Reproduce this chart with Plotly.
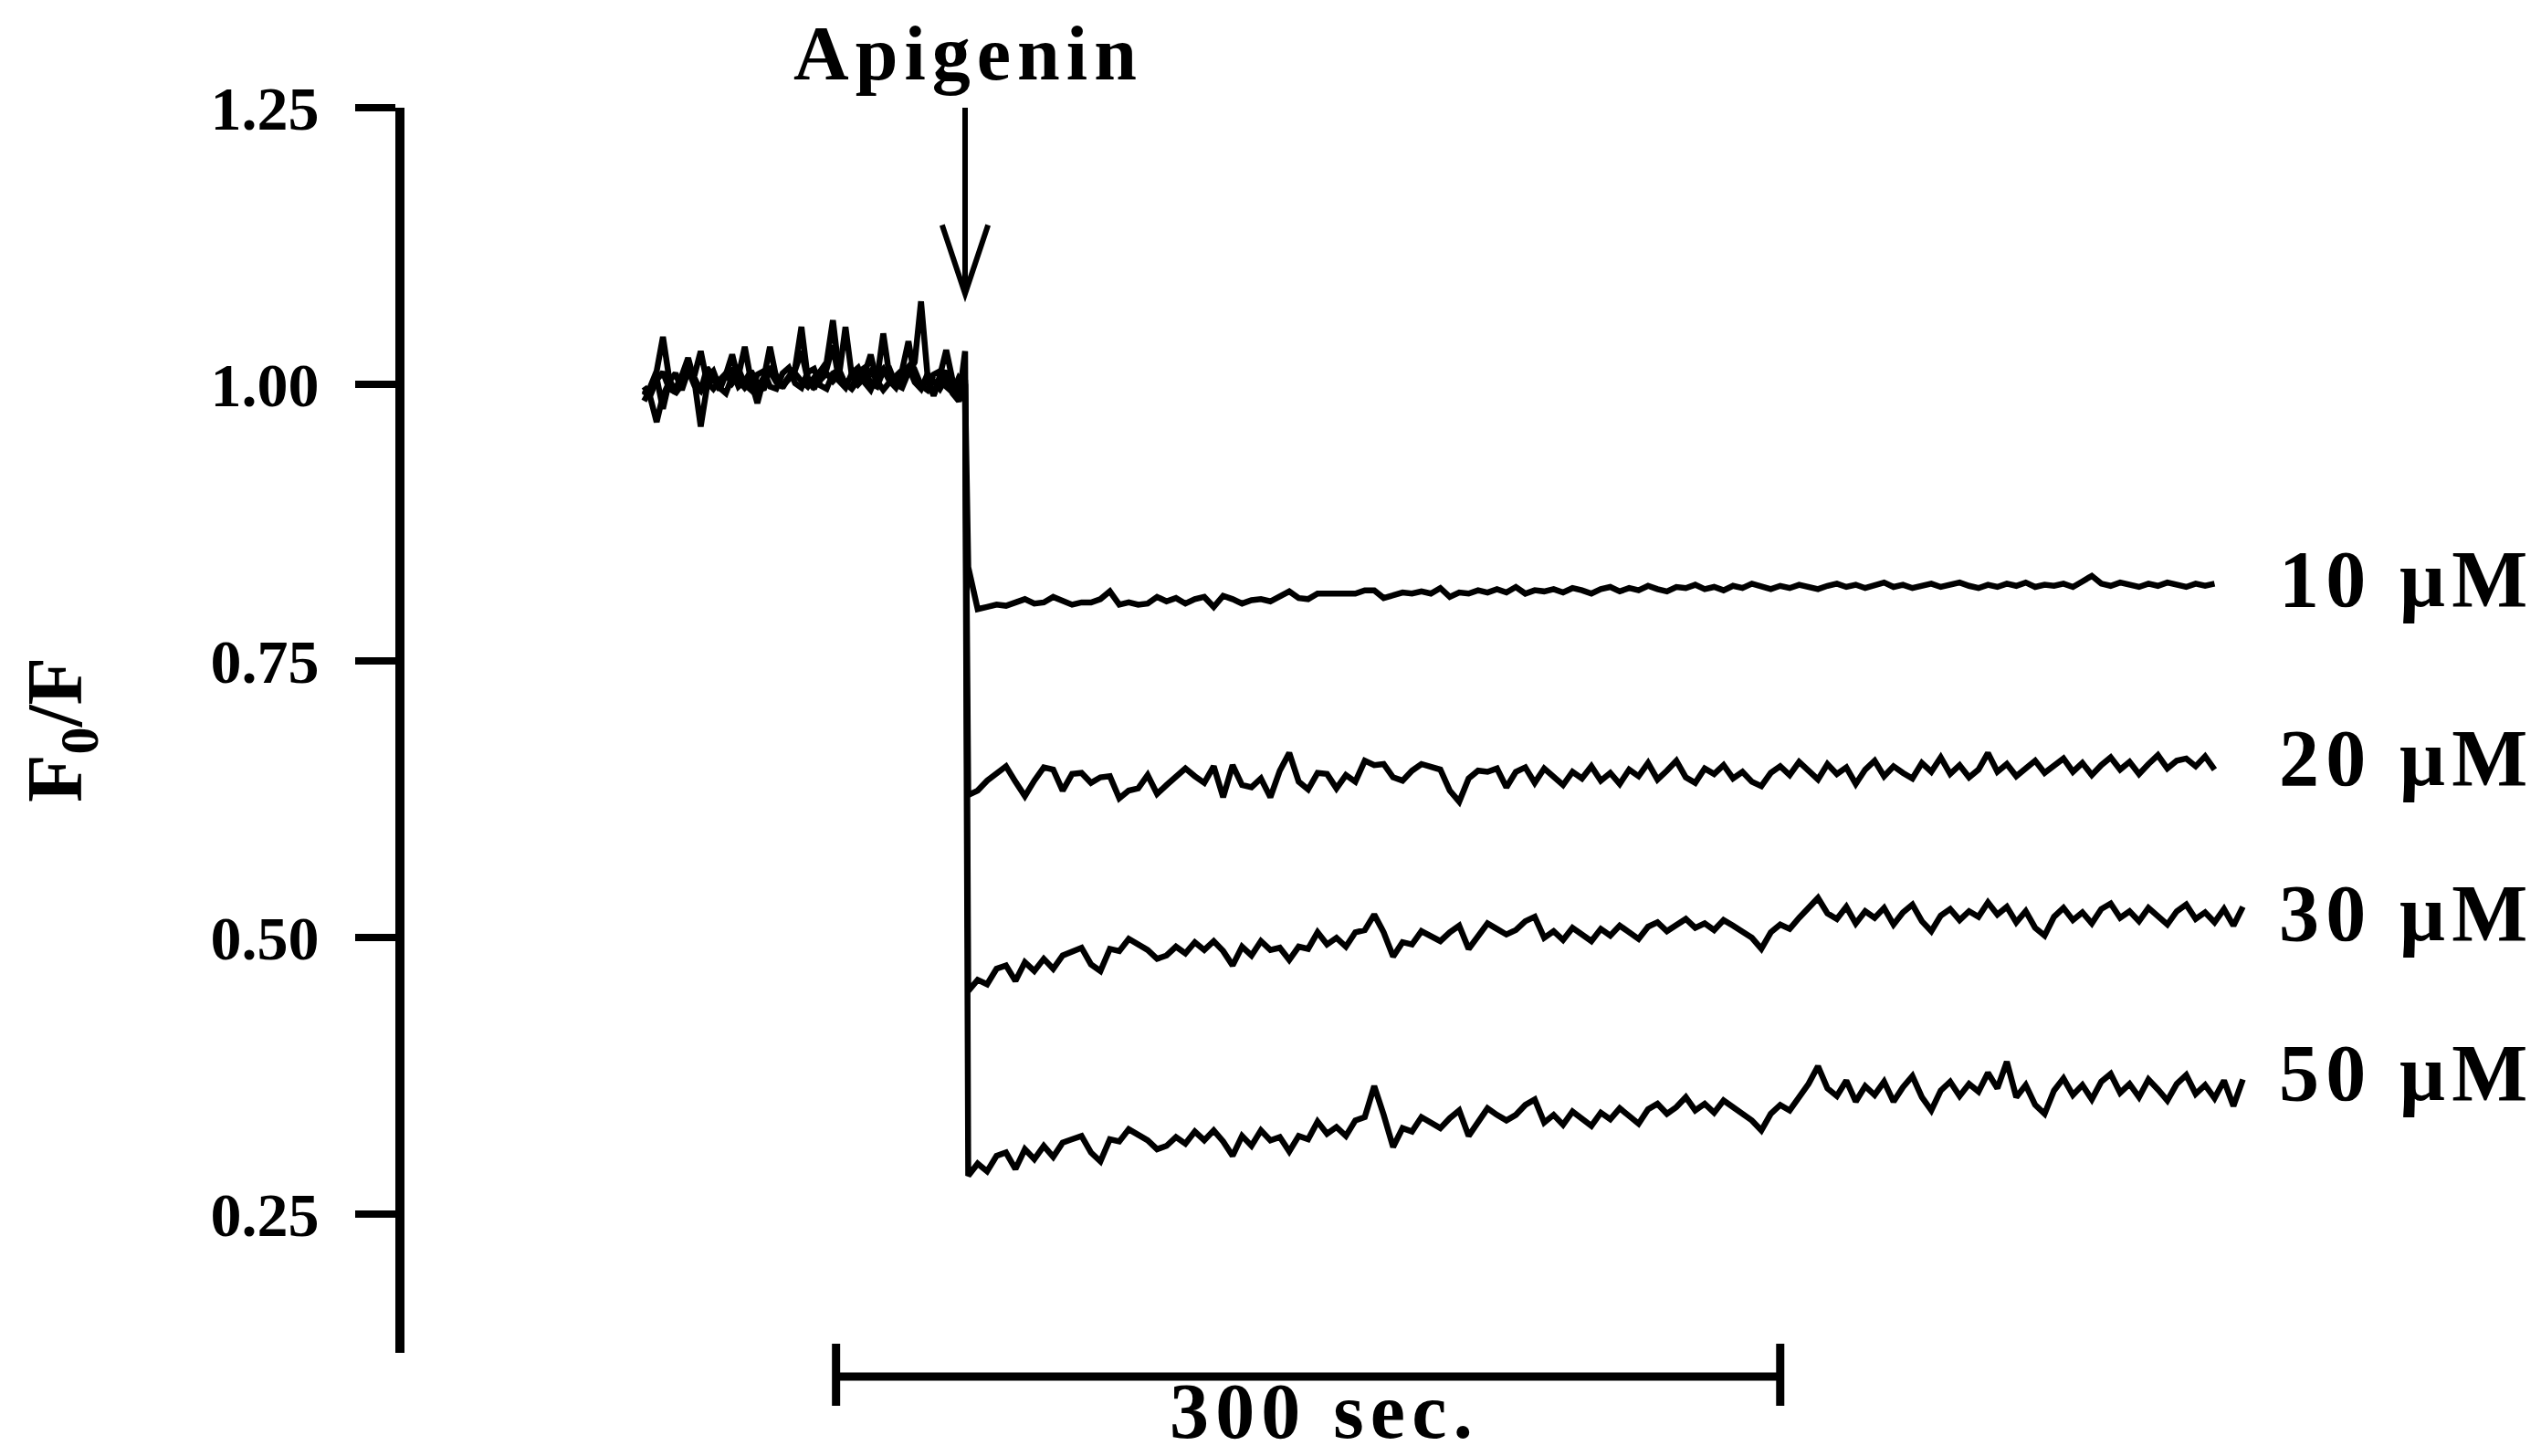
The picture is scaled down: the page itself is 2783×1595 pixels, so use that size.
import numpy as np
import plotly.graph_objects as go

# Stern-Volmer style quenching traces: F0/F before and after apigenin addition (t = 0 s)
CONCENTRATIONS = ["10 μM", "20 μM", "30 μM", "50 μM"]

PRE_START, PRE_STEP = -102.0, 2.0    # s, baseline recording
POST_START, POST_STEP = 1.0, 3.0     # s, after addition

PRE_10 = [
    0.998, 0.990, 1.004, 1.011, 0.996, 0.993, 1.008, 1.013, 0.999, 0.994, 1.006, 1.012, 0.997,
    0.992, 1.007, 1.014, 1.000, 0.995, 1.009, 1.012, 0.998, 0.996, 1.010, 1.015, 1.001, 0.997,
    1.011, 1.014, 0.999, 0.996, 1.010, 1.013, 1.000, 0.997, 1.011, 1.015, 1.001, 0.998, 1.012,
    1.014, 1.000, 0.997, 1.011, 1.013, 0.999, 0.995, 1.009, 1.012, 0.998, 0.993, 1.006, 1.000,
]
PRE_20 = [
    0.990, 0.998, 1.012, 1.043, 1.005, 0.992, 1.000, 1.015, 1.008, 1.030, 1.002, 0.996, 1.004,
    1.010, 1.001, 1.008, 1.034, 1.003, 0.997, 1.006, 1.012, 1.002, 0.999, 1.007, 1.015, 1.052,
    1.006, 0.998, 1.004, 1.010, 1.003, 1.009, 1.052, 1.008, 1.000, 1.006, 1.012, 1.004, 1.046,
    1.007, 0.999, 1.005, 1.010, 1.020, 1.075, 1.010, 1.002, 0.996, 1.006, 0.992, 0.985, 1.000,
]
PRE_30 = [
    0.995, 0.988, 0.966, 0.990, 1.002, 0.996, 1.008, 1.024, 1.003, 0.962, 0.998, 1.006, 1.001,
    1.009, 1.027, 1.004, 0.997, 1.003, 0.983, 1.005, 1.034, 1.006, 0.999, 1.004, 1.010, 1.003,
    0.998, 1.006, 1.012, 1.020, 1.058, 1.010, 1.001, 0.996, 1.004, 1.009, 1.027, 1.003, 0.995,
    1.002, 1.008, 1.013, 1.039, 1.006, 0.998, 1.004, 0.990, 1.008, 1.031, 1.004, 0.985, 1.030,
]
PRE_50 = [
    0.985, 0.996, 1.006, 0.978, 1.003, 1.010, 0.995, 1.012, 1.006, 0.994, 1.015, 1.007, 0.995,
    1.009, 1.013, 0.998, 1.003, 1.012, 1.001, 0.995, 1.016, 1.008, 0.997, 1.006, 1.013, 1.030,
    1.004, 0.996, 1.009, 1.014, 1.035, 1.003, 0.997, 1.010, 1.015, 1.002, 0.995, 1.008, 1.014,
    1.003, 0.997, 1.010, 1.016, 1.002, 0.996, 1.009, 0.990, 1.005, 1.012, 0.996, 0.988, 1.004,
]

POST_10 = [
    0.835, 0.797, 0.799, 0.801, 0.800, 0.803, 0.806, 0.802, 0.803, 0.808,
    0.804, 0.801, 0.803, 0.803, 0.806, 0.813, 0.801, 0.803, 0.801, 0.802,
    0.808, 0.804, 0.807, 0.802, 0.806, 0.808, 0.799, 0.809, 0.806, 0.802,
    0.805, 0.806, 0.804, 0.809, 0.813, 0.807, 0.806, 0.811, 0.811, 0.811,
    0.810, 0.811, 0.814, 0.814, 0.807, 0.810, 0.812, 0.811, 0.813, 0.811,
    0.816, 0.808, 0.812, 0.811, 0.814, 0.812, 0.815, 0.812, 0.817, 0.811,
    0.814, 0.813, 0.815, 0.812, 0.816, 0.814, 0.811, 0.815, 0.817, 0.813,
    0.816, 0.814, 0.818, 0.815, 0.813, 0.817, 0.816, 0.819, 0.815, 0.817,
    0.814, 0.818, 0.816, 0.820, 0.817, 0.815, 0.818, 0.816, 0.819, 0.817,
    0.815, 0.818, 0.820, 0.817, 0.819, 0.816, 0.818, 0.821, 0.817, 0.819,
    0.816, 0.818, 0.820, 0.817, 0.819, 0.821, 0.818, 0.816, 0.819, 0.817,
    0.820, 0.818, 0.821, 0.817, 0.819, 0.818, 0.820, 0.817, 0.822, 0.827,
    0.820, 0.818, 0.821, 0.819, 0.817, 0.820, 0.818, 0.821, 0.819, 0.817,
    0.820, 0.818, 0.820,
]
POST_20 = [
    0.629, 0.633, 0.642, 0.649, 0.655, 0.641, 0.628, 0.642, 0.654, 0.652,
    0.633, 0.648, 0.649, 0.640, 0.645, 0.646, 0.626, 0.633, 0.635, 0.647,
    0.630, 0.638, 0.645, 0.653, 0.646, 0.640, 0.655, 0.627, 0.656, 0.638,
    0.636, 0.644, 0.627, 0.651, 0.667, 0.641, 0.634, 0.649, 0.648, 0.635,
    0.647, 0.641, 0.660, 0.656, 0.657, 0.645, 0.642, 0.651, 0.657, 0.655,
    0.652, 0.633, 0.623, 0.644, 0.651, 0.650, 0.653, 0.636, 0.650, 0.654,
    0.640, 0.653, 0.645, 0.638, 0.650, 0.644, 0.655, 0.642, 0.649, 0.639,
    0.652, 0.646, 0.658, 0.643, 0.651, 0.660, 0.645, 0.640, 0.653, 0.648,
    0.656, 0.644, 0.650, 0.641, 0.637, 0.649, 0.655, 0.647, 0.659, 0.651,
    0.643, 0.657, 0.648, 0.654, 0.639, 0.652, 0.660, 0.646, 0.655, 0.649,
    0.644, 0.658, 0.650, 0.663, 0.648, 0.656, 0.645, 0.652, 0.667, 0.650,
    0.657, 0.646, 0.653, 0.660, 0.649, 0.655, 0.662, 0.650, 0.658, 0.647,
    0.656, 0.663, 0.652, 0.659, 0.648, 0.657, 0.665, 0.653, 0.660, 0.662,
    0.655, 0.664, 0.652,
]
POST_30 = [
    0.452, 0.462, 0.458, 0.472, 0.475, 0.461, 0.478, 0.470, 0.481, 0.472,
    0.484, 0.488, 0.491, 0.476, 0.470, 0.490, 0.488, 0.499, 0.494, 0.489,
    0.481, 0.484, 0.492, 0.486, 0.496, 0.489, 0.497, 0.488, 0.475, 0.492,
    0.484, 0.497, 0.489, 0.491, 0.480, 0.492, 0.490, 0.505, 0.494, 0.500,
    0.492, 0.505, 0.507, 0.521, 0.505, 0.483, 0.496, 0.494, 0.506, 0.502,
    0.497, 0.505, 0.511, 0.490, 0.502, 0.513, 0.508, 0.503, 0.507, 0.515,
    0.519, 0.500, 0.506, 0.498, 0.509, 0.503, 0.497, 0.508, 0.502, 0.511,
    0.505, 0.499, 0.510, 0.514, 0.506, 0.511, 0.517, 0.509, 0.513, 0.507,
    0.516, 0.511, 0.505, 0.500, 0.490, 0.505, 0.512, 0.508, 0.518, 0.527,
    0.536, 0.522, 0.517, 0.528, 0.513, 0.524, 0.518, 0.527, 0.512, 0.523,
    0.530, 0.515, 0.506, 0.520, 0.526, 0.516, 0.524, 0.519, 0.532, 0.521,
    0.528, 0.514, 0.524, 0.509, 0.502, 0.519, 0.527, 0.516, 0.523, 0.513,
    0.526, 0.531, 0.518, 0.524, 0.515, 0.527, 0.520, 0.512, 0.524, 0.530,
    0.517, 0.523, 0.514, 0.526, 0.511, 0.528,
]
POST_50 = [
    0.285, 0.296, 0.289, 0.303, 0.306, 0.291, 0.309, 0.300, 0.312, 0.302,
    0.315, 0.318, 0.321, 0.306, 0.298, 0.318, 0.316, 0.327, 0.322, 0.317,
    0.309, 0.312, 0.320, 0.314, 0.325, 0.317, 0.326, 0.316, 0.303, 0.321,
    0.312, 0.326, 0.317, 0.320, 0.307, 0.321, 0.318, 0.334, 0.323, 0.329,
    0.321, 0.335, 0.338, 0.366, 0.340, 0.311, 0.328, 0.325, 0.338, 0.333,
    0.328, 0.337, 0.344, 0.321, 0.334, 0.346, 0.340, 0.335, 0.340, 0.349,
    0.354, 0.333, 0.340, 0.331, 0.343, 0.337, 0.330, 0.342, 0.336, 0.346,
    0.339, 0.332, 0.345, 0.350, 0.341, 0.347, 0.356, 0.344, 0.350, 0.342,
    0.353, 0.347, 0.340, 0.335, 0.326, 0.341, 0.349, 0.344, 0.356, 0.368,
    0.384, 0.364, 0.357, 0.371, 0.352, 0.366, 0.358, 0.370, 0.352, 0.365,
    0.375, 0.356, 0.344, 0.362, 0.370, 0.357, 0.368, 0.361, 0.378, 0.364,
    0.388, 0.356, 0.367, 0.349, 0.341, 0.362, 0.373, 0.358, 0.367, 0.354,
    0.370, 0.377, 0.360, 0.368, 0.356, 0.372, 0.363, 0.353, 0.368, 0.376,
    0.359, 0.367, 0.355, 0.371, 0.348, 0.372,
]

PRE_TRACES = [PRE_10, PRE_20, PRE_30, PRE_50]
POST_TRACES = [POST_10, POST_20, POST_30, POST_50]
LABEL_Y = [0.824, 0.662, 0.522, 0.378]

Y_TICKS = [0.25, 0.50, 0.75, 1.00, 1.25]
Y_TICK_TEXT = ["0.25", "0.50", "0.75", "1.00", "1.25"]

ADDITION_TIME = 0.0
SCALE_BAR_START = -41.0
SCALE_BAR_SECONDS = 300

# ---- page geometry (pixels) ----
W, H = 2783, 1595
M_L, M_R, M_T, M_B = 443, 20, 118, 113
PLOT_H = H - M_T - M_B
PX_PER_S = 3.447
X_MIN = ADDITION_TIME - (1057 - M_L) / PX_PER_S
X_MAX = X_MIN + (W - M_L - M_R) / PX_PER_S
Y_RANGE = [0.125, 1.25]

FONT = "Liberation Serif"
HAIR = "\u200a"


def spaced(text):
    """Spread the glyphs of a label slightly apart."""
    return HAIR.join(text)


def paper_y(px):
    return (H - M_B - px) / PLOT_H


def paper_x(px):
    return (px - M_L) / (W - M_L - M_R)


fig = go.Figure()

for pre, post in zip(PRE_TRACES, POST_TRACES):
    t = np.concatenate([
        PRE_START + PRE_STEP * np.arange(len(pre)),
        POST_START + POST_STEP * np.arange(len(post)),
    ])
    fig.add_trace(go.Scatter(
        x=t, y=pre + post, mode="lines",
        line=dict(color="black", width=6.5),
        showlegend=False, hoverinfo="skip",
    ))

annotations = []
for name, y in zip(CONCENTRATIONS, LABEL_Y):
    annotations.append(dict(
        x=417, y=y, xref="x", yref="y", xanchor="left", yanchor="middle",
        text=spaced(name), showarrow=False,
        font=dict(family=FONT, size=88, color="black", weight="bold"),
    ))

annotations.append(dict(
    x=ADDITION_TIME, y=paper_y(58), xref="x", yref="paper",
    xanchor="center", yanchor="middle", text=spaced("Apigenin"), showarrow=False,
    font=dict(family=FONT, size=84, color="black", weight="bold"),
))
annotations.append(dict(
    x=SCALE_BAR_START + SCALE_BAR_SECONDS / 2, xshift=14, y=paper_y(1546),
    xref="x", yref="paper", xanchor="center", yanchor="middle", borderpad=0,
    text=spaced(f"{SCALE_BAR_SECONDS} sec."), showarrow=False,
    font=dict(family=FONT, size=86, color="black", weight="bold"),
))
annotations.append(dict(
    x=paper_x(66), y=0.5, xref="paper", yref="paper",
    xanchor="center", yanchor="middle", textangle=-90,
    text="F<sub>0</sub>/F", showarrow=False,
    font=dict(family=FONT, size=86, color="black", weight="bold"),
))

bar_end = SCALE_BAR_START + SCALE_BAR_SECONDS
shapes = [
    # addition arrow
    dict(type="line", xref="x", yref="y", x0=ADDITION_TIME, x1=ADDITION_TIME,
         y0=1.25, y1=1.084, line=dict(color="black", width=6)),
    dict(type="path", xref="x", yref="y",
         path=f"M {ADDITION_TIME - 7.3} 1.144 L {ADDITION_TIME} 1.082 L {ADDITION_TIME + 7.3} 1.144",
         line=dict(color="black", width=6)),
    # time scale bar
    dict(type="line", xref="x", yref="paper", x0=SCALE_BAR_START, x1=bar_end,
         y0=paper_y(1508), y1=paper_y(1508), line=dict(color="black", width=9)),
    dict(type="line", xref="x", yref="paper", x0=SCALE_BAR_START, x1=SCALE_BAR_START,
         y0=paper_y(1472), y1=paper_y(1540), line=dict(color="black", width=9)),
    dict(type="line", xref="x", yref="paper", x0=bar_end, x1=bar_end,
         y0=paper_y(1472), y1=paper_y(1540), line=dict(color="black", width=9)),
]

fig.update_layout(
    template="none",
    width=W, height=H,
    margin=dict(l=M_L, r=M_R, t=M_T, b=M_B, autoexpand=False),
    paper_bgcolor="white", plot_bgcolor="white",
    showlegend=False,
    annotations=annotations,
    shapes=shapes,
    xaxis=dict(visible=False, range=[X_MIN, X_MAX], fixedrange=True),
    yaxis=dict(
        range=Y_RANGE, showgrid=False, zeroline=False,
        showline=True, linewidth=10, linecolor="black",
        ticks="outside", ticklen=44, tickwidth=8, tickcolor="black",
        tickvals=Y_TICKS, ticktext=Y_TICK_TEXT,
        tickfont=dict(family=FONT, size=68, color="black", weight="bold"),
        ticklabelstandoff=26, automargin=False, fixedrange=True,
    ),
)

fig.write_html("out.html", config={"displayModeBar": False})
